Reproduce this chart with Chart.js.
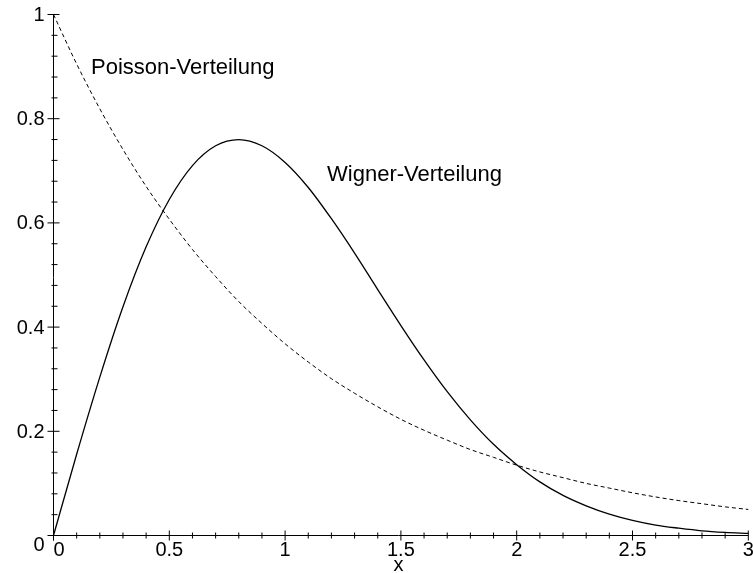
<!DOCTYPE html>
<html>
<head>
<meta charset="utf-8">
<script src="https://cdn.jsdelivr.net/npm/chart.js@4"></script>
<style>
  html, body { margin: 0; padding: 0; background: #fff; }
  canvas { display: block; }
</style>
</head>
<body>
<canvas id="plot" width="753" height="573"></canvas>
<script>
// sample positions along x
const xs = [0, 0.1, 0.2, 0.3, 0.4, 0.5, 0.6, 0.7, 0.8, 0.9, 1.0, 1.1, 1.2, 1.3, 1.4, 1.5,
  1.6, 1.7, 1.8, 1.9, 2.0, 2.1, 2.2, 2.3, 2.4, 2.5, 2.6, 2.7, 2.8, 2.9, 3.0];

// dashed curve
const poisson = [1.000, 0.905, 0.819, 0.741, 0.670, 0.607, 0.549, 0.497, 0.449, 0.407, 0.368,
  0.333, 0.301, 0.273, 0.247, 0.223, 0.202, 0.183, 0.165, 0.150, 0.135,
  0.122, 0.111, 0.100, 0.091, 0.082, 0.074, 0.067, 0.061, 0.055, 0.050];

// solid curve
const wigner = [0.000, 0.156, 0.304, 0.439, 0.554, 0.645, 0.710, 0.748, 0.760, 0.748, 0.716,
  0.668, 0.608, 0.542, 0.472, 0.403, 0.337, 0.276, 0.222, 0.175, 0.136,
  0.103, 0.077, 0.057, 0.041, 0.029, 0.020, 0.014, 0.009, 0.006, 0.004];

const xTicks = [0, 0.5, 1, 1.5, 2, 2.5, 3];
const xTickLabels = ["0", "0.5", "1", "1.5", "2", "2.5", "3"];
const yTicks = [0, 0.2, 0.4, 0.6, 0.8, 1];
const yTickLabels = ["0", "0.2", "0.4", "0.6", "0.8", "1"];

const tickFont = '20px "Liberation Sans", Arial, sans-serif';
const noteFont = '22px "Liberation Sans", Arial, sans-serif';

// axes at the origin, Maple style, drawn from the chart's own scales
const mapleAxes = {
  id: "mapleAxes",
  afterDatasetsDraw(chart) {
    const ctx = chart.ctx;
    const sx = chart.scales.x, sy = chart.scales.y;
    const x0 = sx.getPixelForValue(0), y0 = sy.getPixelForValue(0);
    ctx.save();
    ctx.strokeStyle = "#000";
    ctx.fillStyle = "#000";
    ctx.lineWidth = 1;

    ctx.beginPath();
    ctx.moveTo(sx.getPixelForValue(0) - 5, y0);
    ctx.lineTo(sx.getPixelForValue(3), y0);
    ctx.moveTo(x0, sy.getPixelForValue(0) + 5);
    ctx.lineTo(x0, sy.getPixelForValue(1));
    ctx.stroke();

    // minor ticks
    ctx.beginPath();
    for (let i = 1; i < 30; i++) {
      if (i % 5 === 0) continue;
      const px = sx.getPixelForValue(i / 10);
      ctx.moveTo(px, y0 - 3);
      ctx.lineTo(px, y0 + 3);
    }
    for (let i = 1; i < 25; i++) {
      if (i % 5 === 0) continue;
      const py = sy.getPixelForValue(i / 25);
      ctx.moveTo(x0 - 2, py);
      ctx.lineTo(x0 + 4, py);
    }
    ctx.stroke();

    // major ticks
    ctx.beginPath();
    xTicks.forEach((v) => {
      const px = sx.getPixelForValue(v);
      ctx.moveTo(px, y0 - 5);
      ctx.lineTo(px, y0 + 5);
    });
    yTicks.forEach((v) => {
      const py = sy.getPixelForValue(v);
      ctx.moveTo(x0 - 6, py);
      ctx.lineTo(x0 + 6, py);
    });
    ctx.stroke();

    // tick labels
    ctx.font = tickFont;
    ctx.textBaseline = "middle";
    xTicks.forEach((v, i) => {
      const px = sx.getPixelForValue(v);
      ctx.textAlign = v === 0 ? "left" : "center";
      ctx.fillText(xTickLabels[i], v === 0 ? px : px, y0 + 15);
    });
    ctx.textAlign = "right";
    yTicks.forEach((v, i) => {
      const py = sy.getPixelForValue(v);
      ctx.fillText(yTickLabels[i], x0 - 9, v === 0 ? py + 10 : py + 1);
    });

    // axis title
    ctx.textAlign = "center";
    ctx.fillText("x", sx.getPixelForValue(1.49), y0 + 30);

    // curve names
    ctx.font = noteFont;
    ctx.textAlign = "left";
    ctx.textBaseline = "alphabetic";
    ctx.fillText("Poisson-Verteilung", sx.getPixelForValue(0.162), sy.getPixelForValue(0.885));
    ctx.fillText("Wigner-Verteilung", sx.getPixelForValue(1.181), sy.getPixelForValue(0.680));
    ctx.restore();
  },
};

new Chart(document.getElementById("plot").getContext("2d"), {
  type: "line",
  data: {
    datasets: [
      {
        label: "Poisson-Verteilung",
        data: xs.map((x, i) => ({ x: x, y: poisson[i] })),
        borderColor: "#000",
        borderWidth: 1,
        borderDash: [4, 3],
        pointRadius: 0,
        cubicInterpolationMode: "monotone",
        fill: false,
        clip: false,
      },
      {
        label: "Wigner-Verteilung",
        data: xs.map((x, i) => ({ x: x, y: wigner[i] })),
        borderColor: "#000",
        borderWidth: 1.3,
        pointRadius: 0,
        cubicInterpolationMode: "monotone",
        fill: false,
        clip: false,
      },
    ],
  },
  options: {
    responsive: false,
    animation: false,
    events: [],
    layout: { padding: { left: 53.5, right: 4.7, top: 14.5, bottom: 37.5 } },
    plugins: { legend: { display: false }, tooltip: { enabled: false } },
    scales: {
      x: { type: "linear", min: 0, max: 3, display: false },
      y: { type: "linear", min: 0, max: 1, display: false },
    },
  },
  plugins: [mapleAxes],
});
</script>
</body>
</html>
